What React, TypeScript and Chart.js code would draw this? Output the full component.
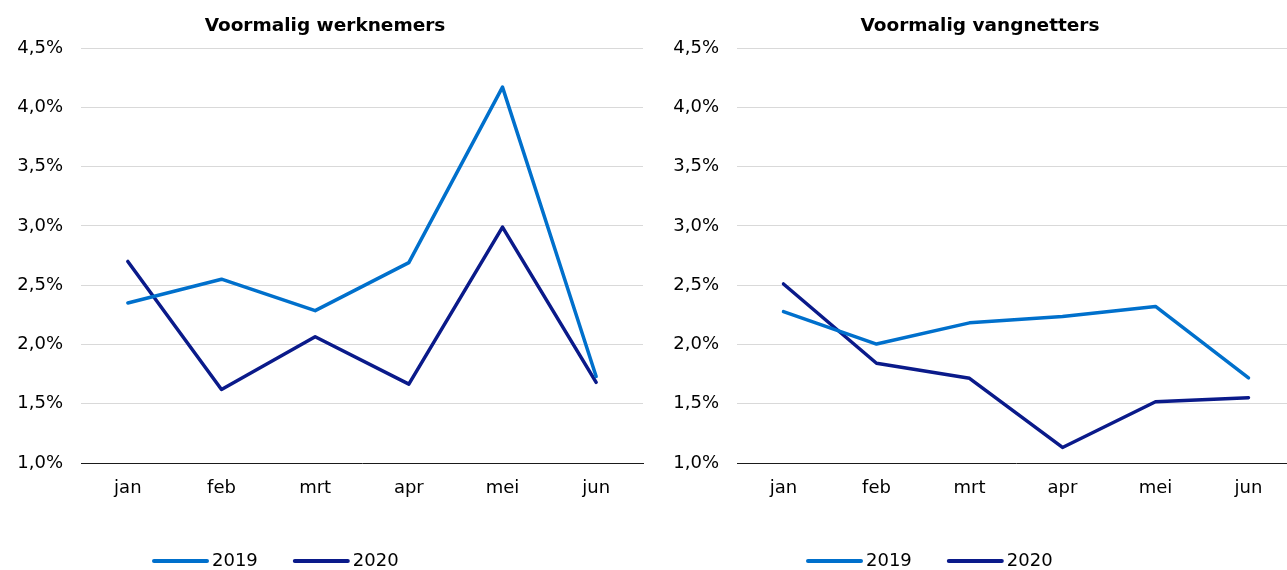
import React, { useEffect, useRef } from "react";
import { Chart, registerables } from "chart.js";

Chart.register(...registerables);

const months = ["jan", "feb", "mrt", "apr", "mei", "jun"];
const seriesLabels = ["2019", "2020"];
const werknemers2019 = [2.35, 2.55, 2.285, 2.69, 4.17, 1.73];
const werknemers2020 = [2.70, 1.62, 2.065, 1.665, 2.99, 1.68];
const vangnetters2019 = [2.277, 2.003, 2.182, 2.235, 2.32, 1.717];
const vangnetters2020 = [2.51, 1.841, 1.714, 1.131, 1.517, 1.551];
const yMin = 1.0;
const yMax = 4.5;
const yStep = 0.5;
const seriesColors = ["#0070CC", "#0A1A8A"];

const FONT = "'DejaVu Sans', Verdana, sans-serif";

type PanelProps = {
  title: string;
  series: number[][];
  width: number;
  left: number;
  axisWidth: number;
  padRight: number;
  legendX: number;
};

const overlayPlugin = {
  id: "overlay",
  afterDraw(chart: any, _args: any, opts: any) {
    const ctx = chart.ctx;
    ctx.save();
    ctx.fillStyle = "#000";
    ctx.font = `bold 18.5px ${FONT}`;
    ctx.textAlign = "center";
    ctx.textBaseline = "middle";
    ctx.fillText(opts.title, chart.width / 2, 26);

    ctx.font = `18px ${FONT}`;
    ctx.textAlign = "left";
    let x = opts.legendX;
    const y = 561;
    chart.data.datasets.forEach((ds: any) => {
      ctx.strokeStyle = ds.borderColor;
      ctx.lineWidth = 4;
      ctx.lineCap = "round";
      ctx.beginPath();
      ctx.moveTo(x, y);
      ctx.lineTo(x + 53, y);
      ctx.stroke();
      ctx.fillStyle = "#000";
      ctx.fillText(ds.label, x + 58, y);
      x += 58 + ctx.measureText(ds.label).width + 37;
    });
    ctx.restore();
  },
};

function Panel(props: PanelProps) {
  const ref = useRef<HTMLCanvasElement>(null);
  useEffect(() => {
    if (!ref.current) return;
    const chart = new Chart(ref.current, {
      type: "line",
      data: {
        labels: months,
        datasets: props.series.map((vals, i) => ({
          label: seriesLabels[i],
          data: vals,
          borderColor: seriesColors[i],
          backgroundColor: seriesColors[i],
          borderWidth: 3.5,
          pointRadius: 0,
          tension: 0,
          borderJoinStyle: "round" as const,
          borderCapStyle: "round" as const,
        })),
      },
      options: {
        animation: false,
        responsive: false,
        maintainAspectRatio: false,
        layout: { padding: { top: 48, bottom: 0, left: 0, right: props.padRight } },
        plugins: {
          legend: { display: false },
          title: { display: false },
          tooltip: { enabled: false },
          overlay: { title: props.title, legendX: props.legendX },
        } as any,
        scales: {
          x: {
            type: "category",
            offset: true,
            grid: { display: false, drawTicks: false },
            border: { display: true, color: "#1a1a1a", width: 1 },
            ticks: { color: "#000", font: { family: FONT, size: 18 }, padding: 15 },
            afterFit: (scale: any) => {
              scale.height = 107;
            },
          },
          y: {
            min: yMin,
            max: yMax,
            grid: {
              drawTicks: false,
              color: (c: any) => (c.tick && c.tick.value === yMin ? "rgba(0,0,0,0)" : "#D9D9D9"),
              lineWidth: 1,
            },
            border: { display: false },
            ticks: {
              stepSize: yStep,
              color: "#000",
              padding: 18,
              font: { family: FONT, size: 18 },
              callback: (v: any) => Number(v).toFixed(1).replace(".", ",") + "%",
            },
            afterFit: (scale: any) => {
              scale.width = props.axisWidth;
            },
          },
        },
      },
      plugins: [overlayPlugin],
    });
    return () => chart.destroy();
  }, []);
  return (
    <div style={{ position: "absolute", left: props.left, top: 0, width: props.width, height: 570 }}>
      <canvas ref={ref} width={props.width} height={570} style={{ display: "block" }} />
    </div>
  );
}

export default function App() {
  useEffect(() => {
    document.body.style.margin = "0";
    document.body.style.overflow = "hidden";
    document.body.style.background = "#fff";
  }, []);
  return (
    <div style={{ position: "relative", width: 1287, height: 570, overflow: "hidden", background: "#fff" }}>
      <Panel
        title="Voormalig werknemers"
        series={[werknemers2019, werknemers2020]}
        width={650}
        left={0}
        axisWidth={81}
        padRight={7}
        legendX={154}
      />
      <Panel
        title="Voormalig vangnetters"
        series={[vangnetters2019, vangnetters2020]}
        width={660}
        left={650}
        axisWidth={87}
        padRight={15}
        legendX={158}
      />
    </div>
  );
}
